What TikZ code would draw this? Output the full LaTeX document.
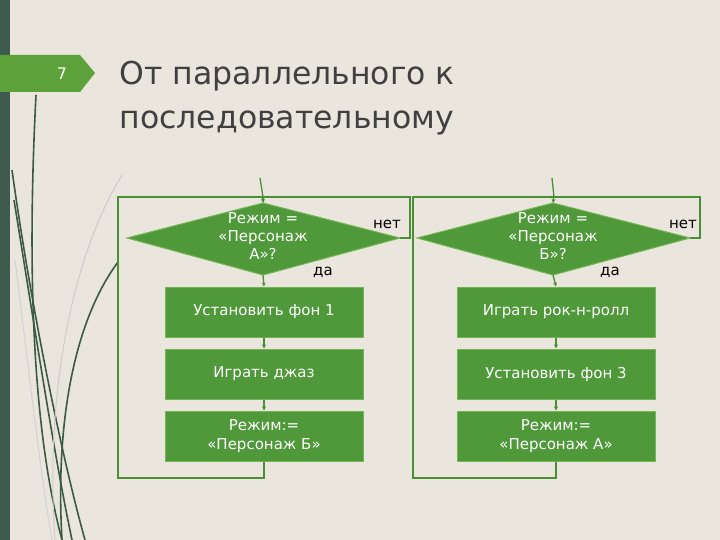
\documentclass[tikz,border=0pt]{standalone}
\usepackage{fontspec}
\setmainfont{DejaVu Sans}
\usetikzlibrary{arrows.meta}
\definecolor{bg}{HTML}{EAE6DD}
\definecolor{strip}{HTML}{3F5B4E}
\definecolor{tab}{HTML}{5DA13A}
\definecolor{fillg}{HTML}{4F993A}
\definecolor{edgeg}{HTML}{74B553}
\definecolor{lineg}{HTML}{4A8F35}
\definecolor{titlec}{HTML}{404040}
\definecolor{curvec}{HTML}{3B5A45}
\begin{document}
\begin{tikzpicture}[x=1pt,y=-1pt,
  box/.style={draw=edgeg,fill=fillg,line width=1pt,minimum width=198pt,minimum height=50pt,text=white,font=\fontsize{15}{19}\selectfont,align=center,inner sep=0pt},
  dtext/.style={text=white,font=\fontsize{15}{18}\selectfont,align=center},
  flow/.style={draw=lineg,line width=1.3pt},
  arr/.style={flow,-{Stealth[length=4pt,width=4pt]}},
  lab/.style={font=\fontsize{15}{16}\selectfont,text=black}]
\fill[bg] (0,0) rectangle (720,540);
\useasboundingbox (0,0) rectangle (720,540);
\fill[strip] (0,0) rectangle (10,540);
% decorative curves
\begin{scope}[line width=1.6pt,curvec]
\draw (36,95) .. controls (28,250) and (30,420) .. (62,540);
\draw (12,170) .. controls (30,300) and (60,450) .. (85,540);
\draw (14,200) .. controls (35,330) and (55,460) .. (72,540);
\draw (118,262) .. controls (75,320) and (55,420) .. (62,540);
\end{scope}
\draw[gray!40,line width=1pt] (122,175) .. controls (70,260) and (45,400) .. (55,540);
\draw[gray!35,line width=1pt] (15,260) .. controls (30,380) and (40,470) .. (52,540);
% tab
\fill[tab] (0,55) -- (80,55) -- (95,73) -- (80,92) -- (0,92) -- cycle;
\node[text=white,font=\fontsize{16}{18}\selectfont] (num) at (62,74) {7};
\node[anchor=west,text=titlec,font=\fontsize{31.5}{44}\selectfont,align=left] (title) at (116,98) {От параллельного к\\последовательному};
% left flowchart
\fill[fillg,draw=edgeg,line width=1pt] (263,203) -- (400,238) -- (263,275) -- (127,238) -- cycle;
\node[dtext] (d1t) at (263,236) {Режим =\\«Персонаж\\А»?};
\node[box] (a1) at (264,312) {Установить фон 1};
\node[box] (a2) at (264,374) {Играть джаз};
\node[box] (a3) at (264,436) {Режим:=\\«Персонаж Б»};
\node[lab] (n1) at (387,224) {нет};
\node[lab] (y1) at (323,272) {да};
\coordinate (l0) at (260,178);
\coordinate (ltop) at (263,197);
\coordinate (lbot) at (264,478);
\coordinate (lbl) at (118,478);
\coordinate (ltl) at (118,197);
\coordinate (lr) at (400,238);
\coordinate (lrr) at (410,238);
\coordinate (lrt) at (410,197);
\draw[flow] (l0) -- (ltop);
\draw[arr] (ltop) -- (263,203);
\draw[flow] (a3.south) -- (lbot) -- (lbl) -- (ltl) -- (ltop);
\draw[flow] (lr) -- (lrr) -- (lrt) -- (ltop);
\draw[arr] (263,275) -- (a1.north);
\draw[arr] (a1.south) -- (a2.north);
\draw[arr] (a2.south) -- (a3.north);
% right flowchart
\fill[fillg,draw=edgeg,line width=1pt] (553,203) -- (690,238) -- (553,275) -- (417,238) -- cycle;
\node[dtext] (d2t) at (553,236) {Режим =\\«Персонаж\\Б»?};
\node[box] (b1) at (556,312) {Играть рок-н-ролл};
\node[box] (b2) at (556,374) {Установить фон 3};
\node[box] (b3) at (556,436) {Режим:=\\«Персонаж А»};
\node[lab] (n2) at (683,224) {нет};
\node[lab] (y2) at (610,272) {да};
\coordinate (r0) at (552,178);
\coordinate (rtop) at (554,197);
\coordinate (rbot) at (556,478);
\coordinate (rbl) at (413,478);
\coordinate (rtl) at (413,197);
\coordinate (rr) at (690,238);
\coordinate (rrr) at (700,238);
\coordinate (rrt) at (700,197);
\draw[flow] (r0) -- (rtop);
\draw[arr] (rtop) -- (553,203);
\draw[flow] (b3.south) -- (rbot) -- (rbl) -- (rtl) -- (rtop);
\draw[flow] (rr) -- (rrr) -- (rrt) -- (rtop);
\draw[arr] (553,275) -- (b1.north);
\draw[arr] (b1.south) -- (b2.north);
\draw[arr] (b2.south) -- (b3.north);
\end{tikzpicture}
\end{document}
